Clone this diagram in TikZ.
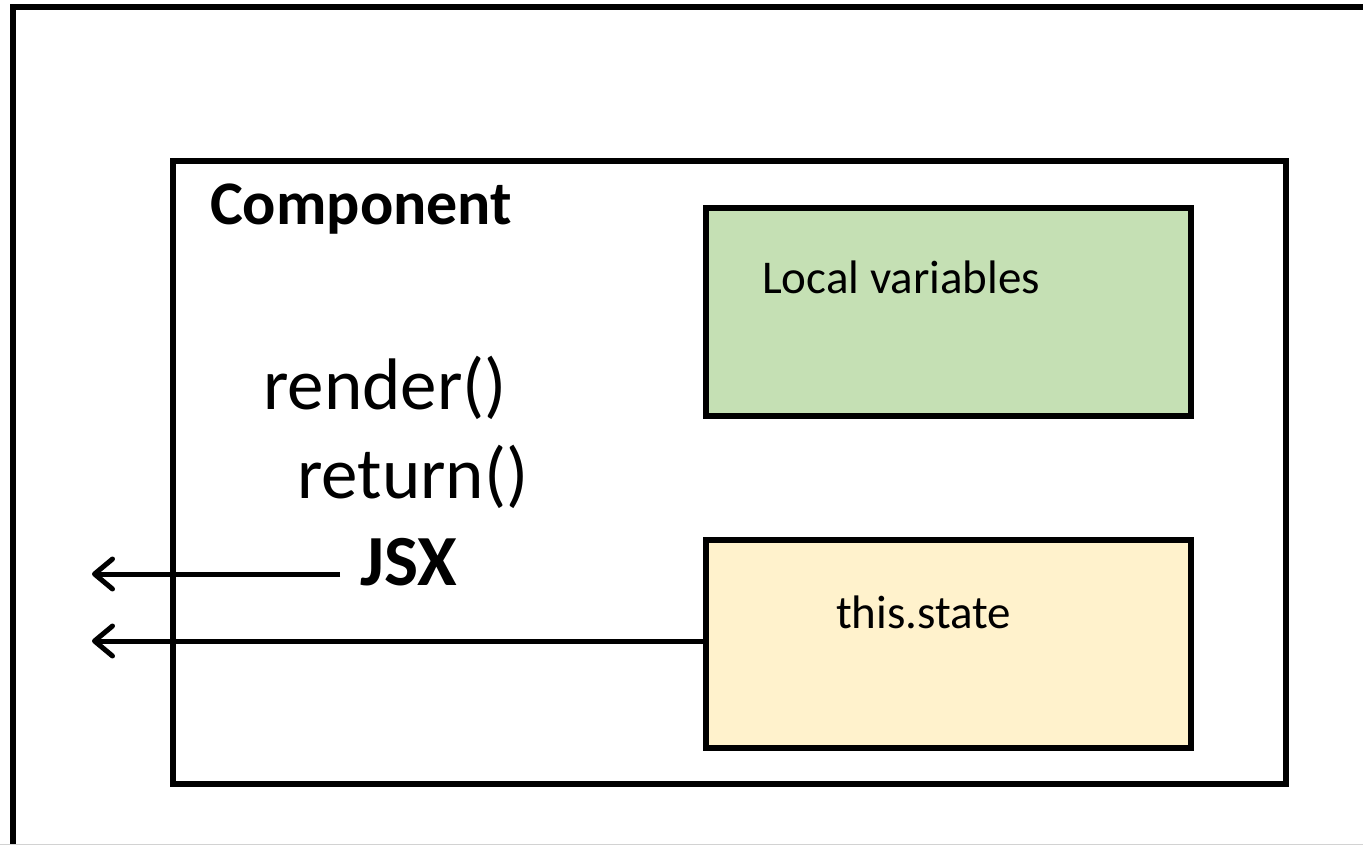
\documentclass[tikz,border=0pt]{standalone}
\usepackage{fontspec}
\setmainfont{Carlito}
\usetikzlibrary{arrows.meta}
\definecolor{lgreen}{HTML}{C5E0B4}
\definecolor{lyellow}{HTML}{FFF2CC}
\begin{document}
\begin{tikzpicture}[x=1pt,y=-1pt,
  frame/.style={draw=black,line width=6pt},
  boxnode/.style={draw=black,line width=6pt,minimum width=485pt,minimum height=208pt,inner sep=0pt,anchor=north west},
  txt/.style={anchor=base west,inner sep=0pt},
  bigtxt/.style={txt,font=\fontsize{73}{80}\selectfont},
  smalltxt/.style={txt,font=\fontsize{47}{54}\selectfont},
  arr/.style={line width=5pt,-{Straight Barb[length=18pt,width=30pt,round]}}]
\useasboundingbox (0,0) rectangle (1363,845);
\clip (0,0) rectangle (1363,845);
\fill[white] (0,0) rectangle (1363,845);
% outer frame (cut at the right and bottom)
\draw[frame] (13,7) rectangle (1400,900);
\draw[gray!35,line width=1pt] (0,844.5) -- (1363,844.5);
% component box
\node[draw=black,line width=6pt,minimum width=1113pt,minimum height=623pt,inner sep=0pt,anchor=north west] (comp) at (170,158) {};
% inner boxes
\node[boxnode,fill=lgreen] (local) at (703,205) {};
\node[boxnode,fill=lyellow] (state) at (703,537) {};
% texts
\node[txt,font=\bfseries\fontsize{62}{70}\selectfont] (title) at (210,225) {Component};
\node[bigtxt] (render) at (263,409) {render()};
\node[bigtxt] (ret) at (297,498) {return()};
\node[txt,font=\bfseries\fontsize{72}{80}\selectfont] (jsx) at (360,585) {JSX};
\node[smalltxt] (lv) at (762,293) {Local variables};
\node[smalltxt] (st) at (836,628) {this.state};
% connectors
\coordinate (e1) at (92,574);
\coordinate (e2) at (92,641);
\coordinate (s1) at ([xshift=-20pt]jsx.west);
\draw[arr] (s1 |- e1) -- (e1);
\draw[arr] (state.west) -- (e2 -| state.west) -- (e2);
\end{tikzpicture}
\end{document}
